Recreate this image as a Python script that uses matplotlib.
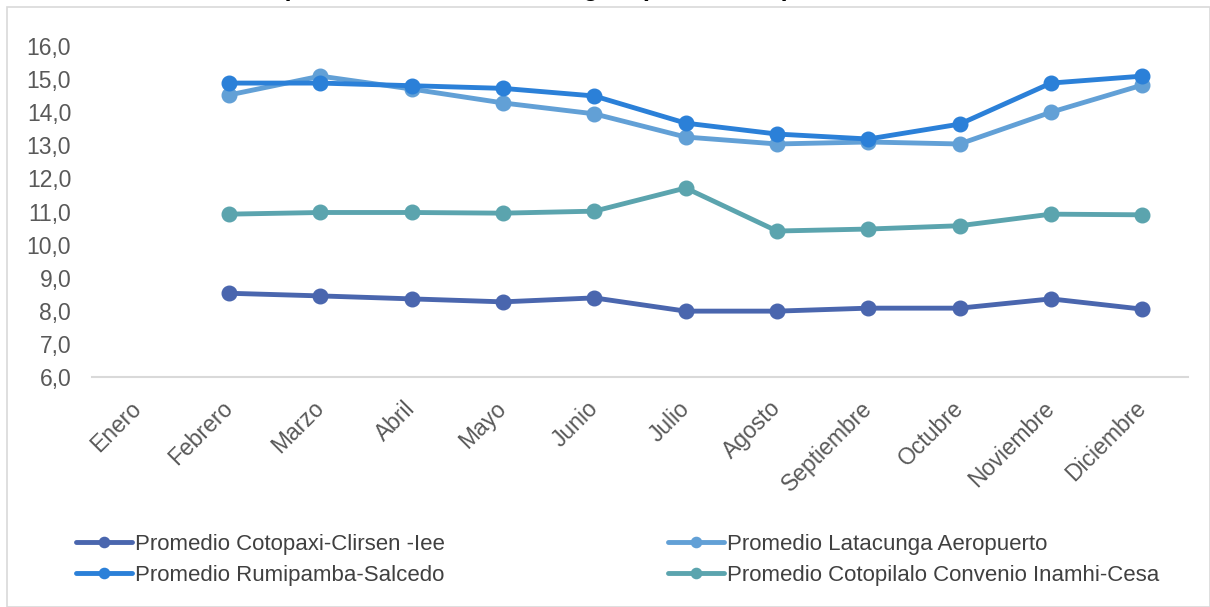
import numpy as np
import matplotlib
matplotlib.use("Agg")
import matplotlib.pyplot as plt
from matplotlib.patches import Rectangle

plt.rcParams['font.family'] = ['Liberation Sans', 'DejaVu Sans']

months = ['Enero', 'Febrero', 'Marzo', 'Abril', 'Mayo', 'Junio', 'Julio',
          'Agosto', 'Septiembre', 'Octubre', 'Noviembre', 'Diciembre']

cotopaxi = [np.nan, 8.53, 8.45, 8.36, 8.27, 8.39, 7.99, 7.99, 8.08, 8.08, 8.36, 8.05]
latacunga = [np.nan, 14.52, 15.09, 14.70, 14.28, 13.95, 13.25, 13.04, 13.10, 13.04, 14.00, 14.82]
rumipamba = [np.nan, 14.88, 14.88, 14.80, 14.72, 14.49, 13.67, 13.34, 13.19, 13.64, 14.88, 15.09]
cotopilalo = [np.nan, 10.92, 10.97, 10.97, 10.95, 11.01, 11.71, 10.41, 10.47, 10.57, 10.92, 10.90]

series = [
    ('Promedio Cotopaxi-Clirsen -Iee', cotopaxi, '#4a66ae'),
    ('Promedio Latacunga Aeropuerto', latacunga, '#62a0d6'),
    ('Promedio Rumipamba-Salcedo', rumipamba, '#2b80d8'),
    ('Promedio Cotopilalo Convenio Inamhi-Cesa', cotopilalo, '#5ba4ae'),
]

W, H = 1210, 607
fig = plt.figure(figsize=(W / 100, H / 100), dpi=100)
ax = fig.add_axes([92 / W, 1 - 377 / H, (1188 - 92) / W, (377 - 46) / H])

x = np.arange(len(months))
handles = {}
for name, vals, col in series:
    ln, = ax.plot(x, vals, color=col, lw=3.5, marker='o', markersize=10.5,
                  label=name, solid_capstyle='round')
    handles[name] = ln

ax.set_xlim(-0.5, 11.5)
ax.set_ylim(6, 16)
ax.set_yticks(np.arange(6, 16.1, 1))
ax.set_yticklabels([f"{v:.1f}".replace('.', ',') for v in np.arange(6, 16.1, 1)])
ax.set_xticks(x)
ax.set_xticklabels(months, rotation=45, ha='right', va='center', rotation_mode='anchor')
for s in ['top', 'right', 'left']:
    ax.spines[s].set_visible(False)
ax.spines['bottom'].set_color('#d9d9d9')
ax.spines['bottom'].set_linewidth(1.5)
ax.tick_params(axis='y', length=0, pad=15, labelsize=16.5, labelcolor='#595959')
ax.tick_params(axis='x', length=0, pad=20, labelsize=16.5, labelcolor='#595959')

order = ['Promedio Cotopaxi-Clirsen -Iee', 'Promedio Rumipamba-Salcedo',
         'Promedio Latacunga Aeropuerto', 'Promedio Cotopilalo Convenio Inamhi-Cesa']
leg = fig.legend([handles[n] for n in order], order, ncol=2, loc='upper left',
                 bbox_to_anchor=(76 / W, 1 - 534 / H), frameon=False,
                 fontsize=16, handlelength=2.5, handletextpad=0.15,
                 columnspacing=10.05, labelspacing=0.45, markerscale=0.7,
                 borderaxespad=0, borderpad=0)
for t in leg.get_texts():
    t.set_color('#404040')

# chart border
fig.patches.append(Rectangle((7 / W, 0), 1 - 7 / W, 1 - 7 / H, transform=fig.transFigure,
                             fill=False, edgecolor='#d9d9d9', lw=1.2))

# title, cut off at the top edge as in the original
fig.text(790 / W, 1 + 4 / H, 'Temperatura Media Climatológica (2000 - 2015)',
         ha='right', va='baseline', fontsize=18, fontweight='bold', color='#000000')

fig.savefig('out.png', dpi=100)
